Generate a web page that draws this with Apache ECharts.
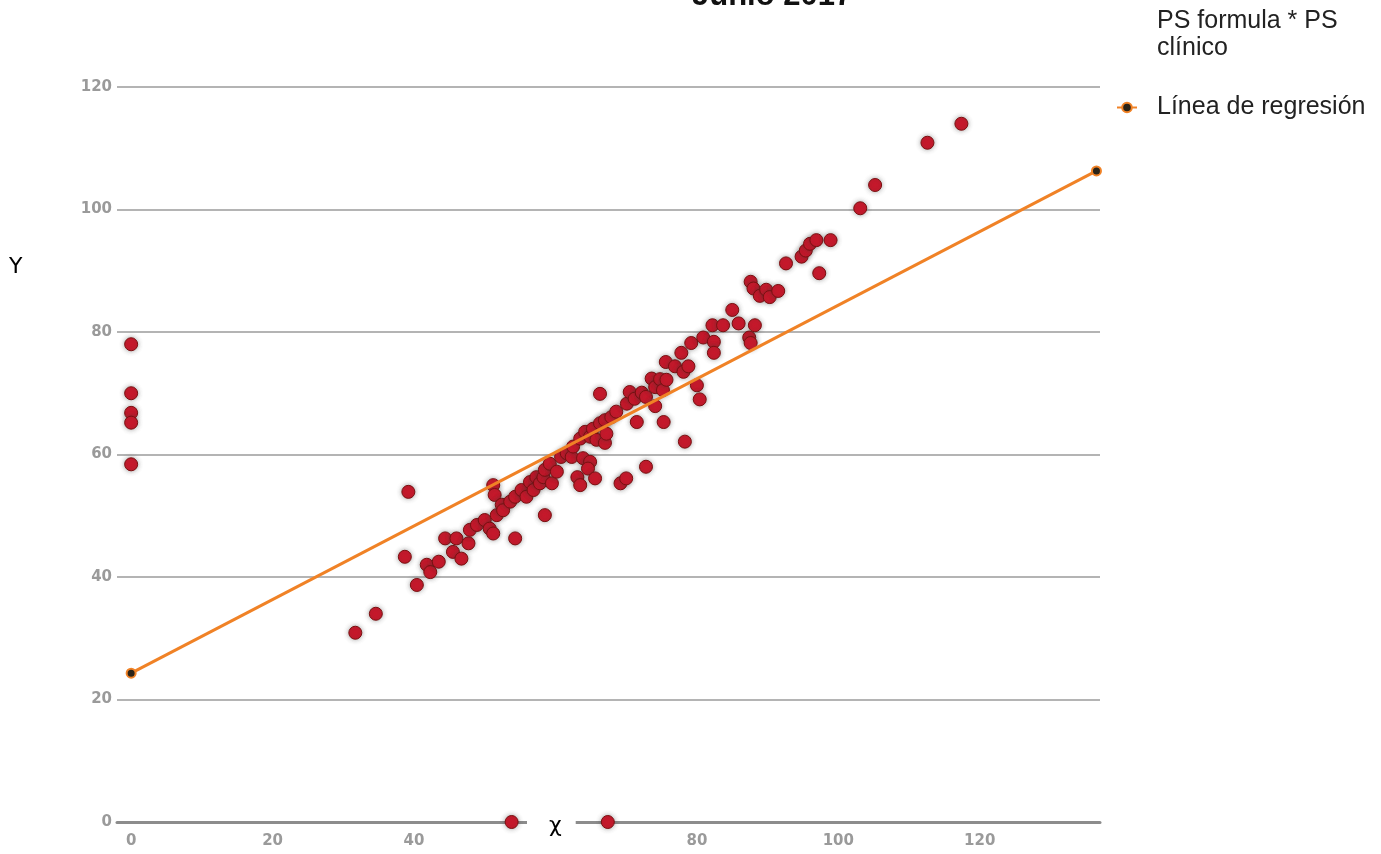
<!DOCTYPE html>
<html><head><meta charset="utf-8">
<script src="https://cdn.jsdelivr.net/npm/echarts@6/dist/echarts.min.js"></script>
<style>html,body{margin:0;padding:0;background:#fff}#c{width:1381px;height:854px}</style>
</head><body><div id="c"></div>
<script>
const titleText = 'Junio 2017';
const xAxisName = 'χ';
const yAxisName = 'Y';
const scatterName = 'PS formula * PS clínico';
const regressionName = 'Línea de regresión';
const xTicks = [0, 20, 40, 60, 80, 100, 120];
const yTicks = [0, 20, 40, 60, 80, 100, 120];

// PS formula (x) and PS clínico (y)
const psFormula = [0, 0, 0, 0, 0, 53.8, 67.4,
  31.7, 34.6, 38.7, 39.2, 40.4, 41.8, 42.3, 43.5, 44.4, 45.5, 46.0, 46.7, 47.7, 47.9, 48.9, 50.0, 50.7, 51.2, 51.2, 51.4, 51.7, 52.4, 52.6, 53.6, 54.3, 54.3,
  55.2, 55.9, 56.4, 56.9, 57.3, 57.8, 58.3, 58.5, 58.5, 59.2, 59.5, 60.2, 60.8, 61.6, 62.3, 62.5, 63.1, 63.5, 63.5, 63.9, 64.2, 64.9, 64.9, 64.6, 65.3, 65.6,
  65.8, 66.3, 66.3, 67.0, 67.0, 67.2, 67.9, 68.6, 69.2, 70.0, 70.1, 70.5, 71.2, 71.5, 72.2, 72.8, 72.8, 73.6, 74.1, 74.1, 74.8, 75.2, 75.3, 75.6, 75.7,
  76.9, 77.8, 78.1, 78.3, 78.8, 79.2, 80.0, 80.4, 80.9, 82.2, 82.4, 82.4, 83.7, 85.0, 85.9, 87.4, 87.6, 88.2, 87.6, 88.0, 88.9, 89.8, 90.3, 91.5,
  92.6, 94.8, 95.4, 96.0, 96.9, 97.3, 98.9, 103.1, 105.2, 112.6, 117.4];
const psClinico = [78.0, 70.0, 66.8, 65.2, 58.4, 0, 0,
  30.9, 34.0, 43.3, 53.9, 38.7, 42.0, 40.8, 42.5, 46.3, 44.1, 46.3, 43.0, 45.5, 47.7, 48.5, 49.3, 47.9, 47.1, 55.0, 53.4, 50.1, 51.8, 50.9, 52.3, 53.1, 46.3,
  54.2, 53.1, 55.5, 54.2, 56.3, 55.3, 56.3, 50.1, 57.5, 58.5, 55.3, 57.2, 59.6, 60.2, 59.6, 61.3, 56.3, 55.0, 62.6, 59.4, 63.7, 62.9, 58.8, 57.7, 64.2, 56.1,
  62.4, 65.1, 69.9, 65.6, 61.9, 63.4, 66.1, 67.0, 55.3, 56.1, 68.3, 70.2, 69.1, 65.3, 70.1, 69.4, 58.0, 72.4, 71.0, 67.9, 72.3, 70.5, 65.3, 75.1, 72.2,
  74.4, 76.6, 73.5, 62.1, 74.4, 78.2, 71.3, 69.0, 79.1, 81.1, 78.4, 76.6, 81.1, 83.6, 81.4, 79.1, 78.2, 81.1, 88.2, 87.1, 85.9, 86.9, 85.7, 86.7,
  91.2, 92.3, 93.3, 94.4, 95.0, 89.6, 95.0, 100.2, 104.0, 110.9, 114.0];
const regressionX = [0, 136.5];
const regressionY = [24.3, 106.3];

const scatterData = psFormula.map((x, i) => [x, psClinico[i]]);
const lineData = regressionX.map((x, i) => [x, regressionY[i]]);

const chart = echarts.init(document.getElementById('c'), null, {renderer: 'canvas'});
const labelStyle = {color: '#9a9a9a', fontFamily: 'DejaVu Sans', fontWeight: 'bold', fontSize: 15};
chart.setOption({
  backgroundColor: '#fff',
  animation: false,
  title: [
    {text: titleText, left: 692, top: -19, padding: 0,
     textStyle: {fontFamily: 'Liberation Sans', fontWeight: 'bold', fontSize: 31, color: '#111'}},
    {text: yAxisName, left: 9, top: 256, padding: 0,
     textStyle: {fontFamily: 'DejaVu Sans', fontWeight: 'normal', fontSize: 22, color: '#000'}},
    {text: xAxisName, left: 527, top: 810, padding: [5, 14, 14, 22], backgroundColor: '#fff',
     textStyle: {fontFamily: 'DejaVu Sans', fontWeight: 'normal', fontSize: 22, color: '#000'}}
  ],
  legend: {
    orient: 'vertical', left: 1116, top: 8, padding: 0,
    itemWidth: 20, itemHeight: 12, itemGap: 32,
    data: [{name: scatterName, icon: 'none'}, {name: regressionName}],
    formatter: n => n === scatterName ? n.replace(/ (\S+)$/, '\n$1') : n,
    textStyle: {fontFamily: 'Liberation Sans', fontSize: 25, lineHeight: 27, color: '#222', padding: [0, 0, 0, 15]}
  },
  grid: {left: 117, top: 87, width: 983, height: 735, containLabel: false, outerBoundsMode: 'none'},
  xAxis: {
    type: 'value', min: -2, max: 137,
    axisLine: {show: true, onZero: false, lineStyle: {color: '#8c8c8c', width: 3}},
    axisTick: {show: false},
    splitLine: {show: false},
    axisLabel: Object.assign({customValues: xTicks, margin: 12}, labelStyle)
  },
  yAxis: {
    type: 'value', min: 0, max: 120, interval: 20,
    axisLine: {show: false},
    axisTick: {show: false},
    splitLine: {lineStyle: {color: '#b4b4b4', width: 2}},
    axisLabel: Object.assign({customValues: yTicks, margin: 5}, labelStyle)
  },
  series: [
    {
      name: scatterName, type: 'scatter', data: scatterData, symbolSize: 13, clip: false, z: 3,
      itemStyle: {color: '#c8182b', borderColor: '#7a1010', borderWidth: 1, opacity: 1,
        shadowBlur: 5, shadowColor: 'rgba(60,60,60,0.45)'}
    },
    {
      name: regressionName, type: 'line', data: lineData, z: 4,
      symbol: 'circle', symbolSize: 9, showSymbol: true,
      lineStyle: {color: '#f08226', width: 3},
      itemStyle: {color: '#2b2418', borderColor: '#f08226', borderWidth: 2}
    }
  ]
});
</script></body></html>
